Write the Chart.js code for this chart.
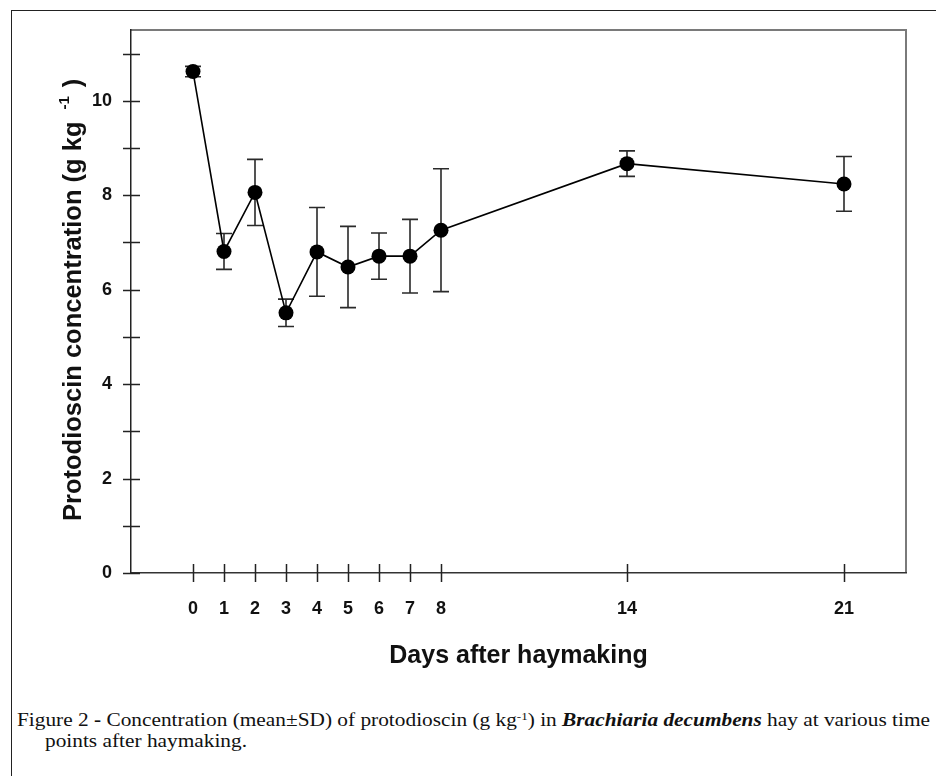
<!DOCTYPE html>
<html><head><meta charset="utf-8">
<script src="https://cdn.jsdelivr.net/npm/chart.js@4/dist/chart.umd.min.js"></script>
<style>
html,body{margin:0;padding:0;background:#fff;width:936px;height:776px;overflow:hidden;}
#frame{position:absolute;left:11px;top:10px;width:925px;height:766px;border-top:1.5px solid #222;border-left:1.5px solid #222;box-sizing:border-box;}
#c{position:absolute;left:0;top:0;}
.cap{position:absolute;font-family:"Liberation Serif","Times New Roman",serif;font-size:18px;line-height:21px;color:#111;white-space:nowrap;transform-origin:0 0;}
.cap sup{font-size:11px;line-height:0;vertical-align:6px;}
</style></head><body>
<div id="frame"></div>
<canvas id="c" width="936" height="690"></canvas>
<div class="cap" id="cap1" style="left:17px;top:710px">Figure 2 <b>-</b> Concentration (mean±SD) of protodioscin (g kg<sup>-1</sup>) in <b><i>Brachiaria decumbens</i></b> hay at various time</div>
<div class="cap" id="cap2" style="left:45px;top:731px">points after haymaking.</div>
<script>
// ---- data ----
const days = [0, 1, 2, 3, 4, 5, 6, 7, 8, 14, 21];
const meanConc = [10.62, 6.81, 8.06, 5.51, 6.80, 6.48, 6.71, 6.71, 7.26, 8.67, 8.24];
const sdConc = [0.11, 0.38, 0.70, 0.29, 0.94, 0.86, 0.49, 0.78, 1.30, 0.27, 0.58];
const xTickLabels = ['0', '1', '2', '3', '4', '5', '6', '7', '8', '14', '21'];
const yTickValues = [0, 1, 2, 3, 4, 5, 6, 7, 8, 9, 10, 11];
const yTickLabels = ['0', '', '2', '', '4', '', '6', '', '8', '', '10', ''];
const xTitle = 'Days after haymaking';
const yTitleMain = 'Protodioscin concentration (g kg';
const yTitleSup = '-1';
const yTitleEnd = ')';

const SANS = '"Liberation Sans", Arial, sans-serif';

const errorBars = {
  id: 'errorBars',
  beforeDatasetsDraw(chart) {
    const {ctx, scales: {x, y}} = chart;
    ctx.save();
    ctx.strokeStyle = '#2a2a2a';
    ctx.lineWidth = 1.6;
    days.forEach((d, i) => {
      const px = x.getPixelForValue(d);
      const top = y.getPixelForValue(meanConc[i] + sdConc[i]);
      const bot = y.getPixelForValue(meanConc[i] - sdConc[i]);
      ctx.beginPath();
      ctx.moveTo(px, top); ctx.lineTo(px, bot);
      ctx.moveTo(px - 8, top); ctx.lineTo(px + 8, top);
      ctx.moveTo(px - 8, bot); ctx.lineTo(px + 8, bot);
      ctx.stroke();
    });
    ctx.restore();
  }
};

const frameAndTicks = {
  id: 'frameAndTicks',
  beforeDraw(chart) {
    const {ctx, chartArea: a} = chart;
    ctx.save();
    ctx.strokeStyle = '#7a7a7a';
    ctx.lineWidth = 2;
    ctx.beginPath();
    ctx.moveTo(a.left, a.top); ctx.lineTo(a.right, a.top); ctx.lineTo(a.right, a.bottom);
    ctx.stroke();
    ctx.restore();
  },
  afterDraw(chart) {
    const {ctx, chartArea: a, scales: {x, y}} = chart;
    ctx.save();
    ctx.strokeStyle = '#222';
    ctx.lineWidth = 1.5;
    ctx.beginPath();
    x.ticks.forEach(t => {
      const px = Math.round(x.getPixelForValue(t.value)) + 0.5;
      ctx.moveTo(px, a.bottom - 9); ctx.lineTo(px, a.bottom + 9);
    });
    y.ticks.forEach(t => {
      const py = Math.round(y.getPixelForValue(t.value)) + 0.5;
      ctx.moveTo(a.left - 8, py); ctx.lineTo(a.left + 9, py);
    });
    ctx.stroke();
    // y-axis title with superscript
    ctx.fillStyle = '#111';
    ctx.translate(81, 521);
    ctx.rotate(-Math.PI / 2);
    ctx.textBaseline = 'alphabetic';
    ctx.textAlign = 'left';
    ctx.font = 'bold 25.5px ' + SANS;
    ctx.fillText(yTitleMain, 0, 0);
    let w = ctx.measureText(yTitleMain).width + 12;
    ctx.font = 'bold 15px ' + SANS;
    ctx.fillText(yTitleSup, w, -12);
    w += ctx.measureText(yTitleSup).width + 9;
    ctx.font = 'bold 25.5px ' + SANS;
    ctx.fillText(yTitleEnd, w, 0);
    ctx.restore();
  }
};

new Chart(document.getElementById('c').getContext('2d'), {
  type: 'line',
  data: {
    datasets: [{
      data: days.map((d, i) => ({x: d, y: meanConc[i]})),
      borderColor: '#000',
      borderWidth: 1.6,
      pointRadius: 7.5,
      pointBackgroundColor: '#000',
      pointBorderColor: '#000',
      pointBorderWidth: 0,
      tension: 0,
      fill: false
    }]
  },
  options: {
    responsive: false,
    animation: false,
    devicePixelRatio: 1,
    layout: {padding: {left: 0, top: 30, right: 30, bottom: 0}},
    plugins: {legend: {display: false}, tooltip: {enabled: false}},
    scales: {
      x: {
        type: 'linear', min: -2, max: 23,
        afterBuildTicks: s => { s.ticks = days.map(v => ({value: v})); },
        afterFit: s => { s.height = 117; },
        grid: {display: false, drawTicks: false},
        border: {display: true, color: '#333', width: 1.5},
        ticks: {
          autoSkip: false, maxRotation: 0, padding: 25, color: '#111',
          font: {family: SANS, size: 18, weight: 'bold'},
          callback: (v, i) => xTickLabels[i]
        },
        title: {display: true, text: xTitle, color: '#111',
          font: {family: SANS, size: 25, weight: 'bold'}, padding: {top: 0, bottom: 19}}
      },
      y: {
        type: 'linear', min: 0, max: 11.5,
        afterBuildTicks: s => { s.ticks = yTickValues.map(v => ({value: v})); },
        afterFit: s => { s.width = 131; },
        grid: {display: false, drawTicks: false},
        border: {display: true, color: '#222', width: 1.5},
        ticks: {
          autoSkip: false, padding: 19, color: '#111',
          font: {family: SANS, size: 18, weight: 'bold'},
          callback: (v, i) => yTickLabels[i]
        }
      }
    }
  },
  plugins: [errorBars, frameAndTicks]
});

// fit caption width to reference line length
(function () {
  const c1 = document.getElementById('cap1');
  const c2 = document.getElementById('cap2');
  const w = c1.getBoundingClientRect().width;
  let s = 913 / w;
  if (s < 0.8) s = 0.8; if (s > 1.25) s = 1.25;
  c1.style.transform = 'scaleX(' + s + ')';
  c2.style.transform = 'scaleX(' + s + ')';
})();
</script>
</body></html>
